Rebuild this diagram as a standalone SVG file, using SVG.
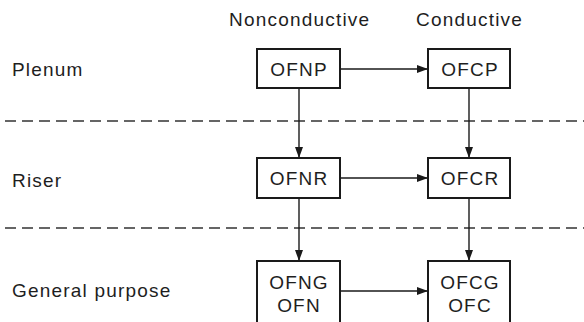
<svg xmlns="http://www.w3.org/2000/svg" width="584" height="322" viewBox="0 0 584 322">
<defs>
<marker id="ah" markerWidth="11" markerHeight="8" refX="11" refY="4" orient="auto" markerUnits="userSpaceOnUse">
<path d="M0,0 L11,4 L0,8 Z" fill="#1a1a1a"/>
</marker>
<style>
text{font-family:"Liberation Sans",Arial,sans-serif;font-size:19px;letter-spacing:1.2px;fill:#1e1e1e}
.c{text-anchor:middle}
.box{fill:#fff;stroke:#1a1a1a;stroke-width:2}
.con{stroke:#1a1a1a;stroke-width:1.4;fill:none;marker-end:url(#ah)}
.dash{stroke:#333;stroke-width:1.3;stroke-dasharray:11 6;fill:none}
</style>
</defs>
<rect width="584" height="322" fill="#fff"/>
<g id="headers">
<text x="229" y="26">Nonconductive</text>
<text x="416" y="26">Conductive</text>
</g>
<g id="rows">
<text x="12" y="76">Plenum</text>
<text x="12" y="187">Riser</text>
<text x="12" y="297">General purpose</text>
</g>
<g id="separators">
<line class="dash" x1="5" y1="121" x2="584" y2="121"/>
<line class="dash" x1="5" y1="228" x2="584" y2="228"/>
</g>
<g id="connectors">
<line class="con" x1="340" y1="69" x2="428" y2="69"/>
<line class="con" x1="340" y1="178" x2="428" y2="178"/>
<line class="con" x1="340" y1="291" x2="428" y2="291"/>
<line class="con" x1="299" y1="88" x2="299" y2="158"/>
<line class="con" x1="299" y1="198" x2="299" y2="261"/>
<line class="con" x1="469" y1="88" x2="469" y2="158"/>
<line class="con" x1="469" y1="198" x2="469" y2="261"/>
</g>
<g id="OFNP"><rect class="box" x="257" y="49" width="83" height="39"/><text class="c" x="299" y="76">OFNP</text></g>
<g id="OFCP"><rect class="box" x="428" y="49" width="82" height="39"/><text class="c" x="470" y="76">OFCP</text></g>
<g id="OFNR"><rect class="box" x="257" y="158" width="83" height="40"/><text class="c" x="299" y="185">OFNR</text></g>
<g id="OFCR"><rect class="box" x="428" y="158" width="82" height="40"/><text class="c" x="470" y="185">OFCR</text></g>
<g id="OFNG"><rect class="box" x="257" y="261" width="83" height="64"/><text class="c" x="299" y="289">OFNG</text><text class="c" x="299" y="312">OFN</text></g>
<g id="OFCG"><rect class="box" x="428" y="261" width="82" height="64"/><text class="c" x="470" y="289">OFCG</text><text class="c" x="470" y="312">OFC</text></g>
</svg>
